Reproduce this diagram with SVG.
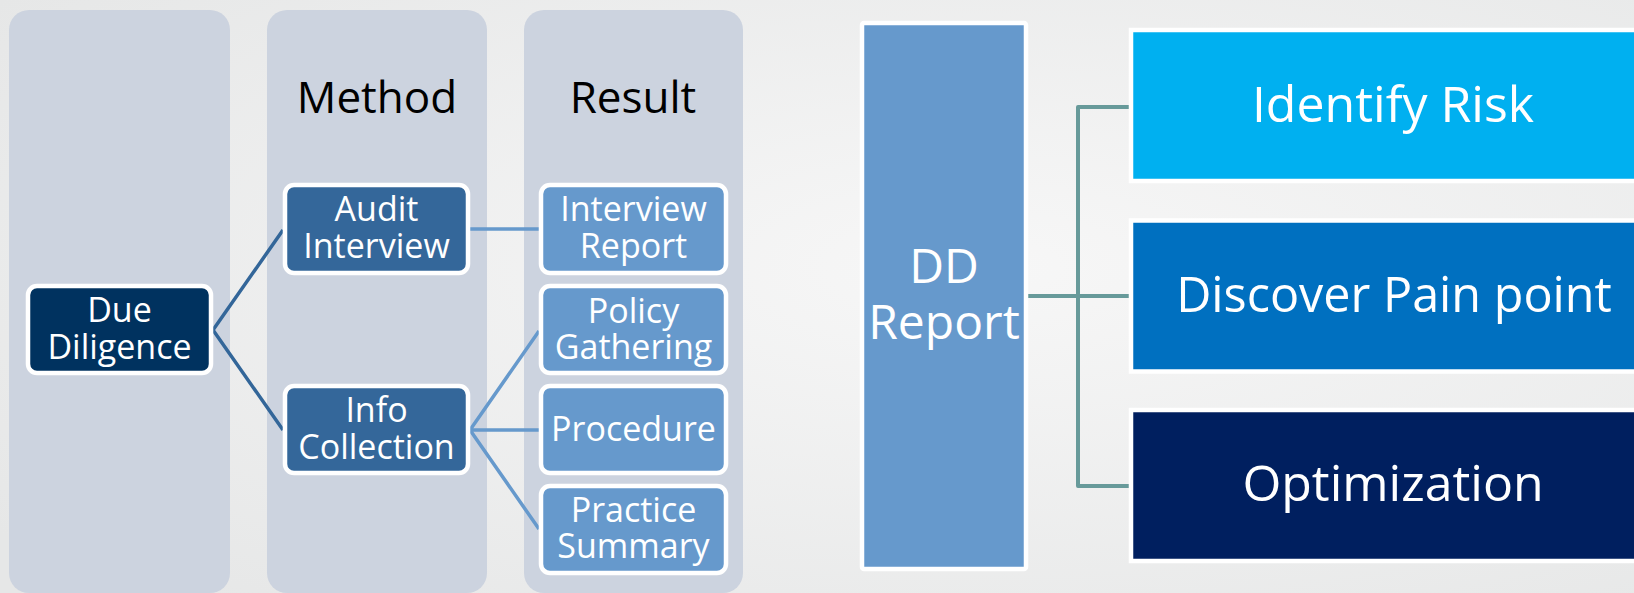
<svg xmlns="http://www.w3.org/2000/svg" width="1634" height="593" viewBox="0 0 1634 593">
<defs>
<radialGradient id="bg" cx="0.6" cy="0.45" r="0.75">
<stop offset="0" stop-color="#F7F7F7"/>
<stop offset="1" stop-color="#E6E7E7"/>
</radialGradient>
<style>
.panel{fill:#CCD3DF}
.box{stroke:#FFFFFF;stroke-width:4.5}
.dark{fill:#00325F}
.mid{fill:#34679A}
.light{fill:#6699CC}
.t{font-family:"Open Sans","Noto Sans","Liberation Sans",sans-serif;fill:#FFFFFF;text-anchor:middle}
.s{font-size:34px}
.title{font-family:"Open Sans","Noto Sans","Liberation Sans",sans-serif;font-size:44px;fill:#000000;text-anchor:middle}
.big{font-size:48px}
.huge{font-size:50px}
.c1{stroke:#336699;stroke-width:3.5;fill:none}
.c2{stroke:#6699CC;stroke-width:3.5;fill:none}
.c3{stroke:#679A9A;stroke-width:4;fill:none;stroke-linejoin:round}
</style>
</defs>
<rect x="0" y="0" width="1634" height="593" fill="url(#bg)"/>
<g id="panels">
<rect class="panel" x="9" y="10" width="221" height="583" rx="20"/>
<rect class="panel" x="267" y="10" width="220" height="583" rx="20"/>
<rect class="panel" x="524" y="10" width="219" height="583" rx="20"/>
<text class="title" x="377" y="113">Method</text>
<text class="title" x="633" y="113">Result</text>
</g>
<g id="connectors">
<path class="c1" d="M213,330 L283,230 M213,330 L283,430"/>
<path class="c2" d="M470,229 L539,229 M470,430 L539,331 M470,430 L539,430 M470,430 L539,529"/>
<path class="c3" d="M1026,296 H1131 M1131,107 H1078 V486 H1131"/>
</g>
<g id="due-diligence">
<rect class="box dark" x="28" y="286" width="183" height="87" rx="9"/>
<text class="t s" x="119.5" y="322">Due<tspan x="119.5" dy="37">Diligence</tspan></text>
</g>
<g id="audit-interview">
<rect class="box mid" x="285" y="185" width="183" height="88" rx="9"/>
<text class="t s" x="376.5" y="221">Audit<tspan x="376.5" dy="37">Interview</tspan></text>
</g>
<g id="info-collection">
<rect class="box mid" x="285" y="386" width="183" height="87" rx="9"/>
<text class="t s" x="376.5" y="422">Info<tspan x="376.5" dy="37">Collection</tspan></text>
</g>
<g id="interview-report">
<rect class="box light" x="541" y="185" width="185" height="88" rx="9"/>
<text class="t s" x="633.5" y="221">Interview<tspan x="633.5" dy="37">Report</tspan></text>
</g>
<g id="policy-gathering">
<rect class="box light" x="541" y="286" width="185" height="87" rx="9"/>
<text class="t s" x="633.5" y="323">Policy<tspan x="633.5" dy="36">Gathering</tspan></text>
</g>
<g id="procedure">
<rect class="box light" x="541" y="386" width="185" height="87" rx="9"/>
<text class="t s" x="633.5" y="441">Procedure</text>
</g>
<g id="practice-summary">
<rect class="box light" x="541" y="486" width="185" height="87" rx="9"/>
<text class="t s" x="633.5" y="522">Practice<tspan x="633.5" dy="36">Summary</tspan></text>
</g>
<g id="dd-report">
<rect class="box light" x="862" y="23" width="164" height="546" rx="2"/>
<text class="t big" x="944" y="283">DD<tspan x="944" dy="56">Report</tspan></text>
</g>
<g id="identify-risk">
<rect class="box" fill="#00B0F0" x="1131" y="30" width="530" height="151"/>
<text class="t huge" x="1393" y="122">Identify Risk</text>
</g>
<g id="discover-pain-point">
<rect class="box" fill="#0070C0" x="1131" y="220.5" width="530" height="151"/>
<text class="t huge" x="1394" y="312" style="font-size:48.5px">Discover Pain point</text>
</g>
<g id="optimization">
<rect class="box" fill="#001F5F" x="1131" y="410" width="530" height="151"/>
<text class="t huge" x="1393" y="501">Optimization</text>
</g>
</svg>
